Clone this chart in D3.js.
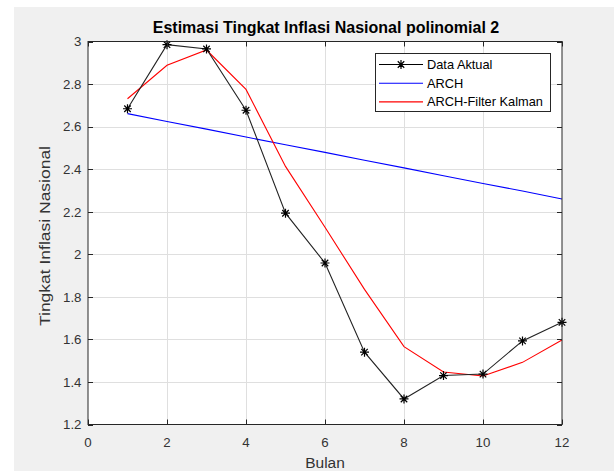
<!DOCTYPE html>
<html>
<head>
<meta charset="utf-8">
<script src="https://cdn.jsdelivr.net/npm/d3@7"></script>
<style>
  body { margin: 0; background: #fff; }
  svg { display: block; font-family: "Liberation Sans", Arial, Helvetica, sans-serif; }
</style>
</head>
<body>
<svg id="chart" width="614" height="471"></svg>
<script>
var bulan = [1, 2, 3, 4, 5, 6, 7, 8, 9, 10, 11, 12];
var dataAktual = [2.684, 2.985, 2.965, 2.677, 2.193, 1.959, 1.540, 1.320, 1.430, 1.437, 1.593, 1.680];
var arch = [2.661, 2.624, 2.588, 2.551, 2.515, 2.479, 2.442, 2.406, 2.369, 2.333, 2.297, 2.260];
var archKalman = [2.731, 2.888, 2.960, 2.775, 2.413, 2.127, 1.835, 1.566, 1.447, 1.428, 1.492, 1.597];
var xTicks = [0, 2, 4, 6, 8, 10, 12];
var yTicks = [1.2, 1.4, 1.6, 1.8, 2, 2.2, 2.4, 2.6, 2.8, 3];

var svg = d3.select("#chart");

// figure background
svg.append("rect")
  .attr("x", 14).attr("y", 7)
  .attr("width", 600).attr("height", 464)
  .attr("fill", "#f0f0f0");

var pLeft = 88, pRight = 562, pTop = 41.5, pBottom = 424.5;

var x = d3.scaleLinear().domain([0, 12]).range([pLeft, pRight]);
var y = d3.scaleLinear().domain([1.2, 3]).range([pBottom, pTop]);

svg.append("rect")
  .attr("x", pLeft).attr("y", pTop)
  .attr("width", pRight - pLeft).attr("height", pBottom - pTop)
  .attr("fill", "#fff");

// grid
var grid = svg.append("g").attr("stroke", "#dfdfdf").attr("stroke-width", 1);
grid.selectAll(".gx").data(xTicks.slice(1, -1)).enter().append("line")
  .attr("x1", function(d) { return Math.round(x(d)) + 0.5; })
  .attr("x2", function(d) { return Math.round(x(d)) + 0.5; })
  .attr("y1", pTop).attr("y2", pBottom);
grid.selectAll(".gy").data(yTicks.slice(1, -1)).enter().append("line")
  .attr("y1", function(d) { return Math.round(y(d)) + 0.5; })
  .attr("y2", function(d) { return Math.round(y(d)) + 0.5; })
  .attr("x1", pLeft).attr("x2", pRight);

// lines
var line = d3.line()
  .x(function(d, i) { return x(bulan[i]); })
  .y(function(d) { return y(d); });

svg.append("path").datum(arch)
  .attr("d", line).attr("fill", "none")
  .attr("stroke", "#0000ff").attr("stroke-width", 1.1);

svg.append("path").datum(archKalman)
  .attr("d", line).attr("fill", "none")
  .attr("stroke", "#ff0000").attr("stroke-width", 1.1);

svg.append("path").datum(dataAktual)
  .attr("d", line).attr("fill", "none")
  .attr("stroke", "#222").attr("stroke-width", 1.1);

function star(g, cx, cy, r) {
  var d = r * 0.72;
  var p = "M" + (cx - r) + "," + cy + "H" + (cx + r) +
          "M" + cx + "," + (cy - r) + "V" + (cy + r) +
          "M" + (cx - d) + "," + (cy - d) + "L" + (cx + d) + "," + (cy + d) +
          "M" + (cx - d) + "," + (cy + d) + "L" + (cx + d) + "," + (cy - d);
  g.append("path").attr("d", p).attr("stroke", "#000").attr("stroke-width", 1.2).attr("fill", "none");
}
var markers = svg.append("g");
dataAktual.forEach(function(v, i) { star(markers, x(bulan[i]), y(v), 4.5); });

// axes box with inward ticks
var ax = svg.append("g").attr("stroke", "#262626").attr("stroke-width", 1);
ax.append("rect")
  .attr("x", pLeft).attr("y", pTop)
  .attr("width", pRight - pLeft).attr("height", pBottom - pTop)
  .attr("fill", "none");
xTicks.forEach(function(t) {
  var px = Math.round(x(t)) + 0.5;
  ax.append("line").attr("x1", px).attr("x2", px).attr("y1", pBottom).attr("y2", pBottom - 5);
  ax.append("line").attr("x1", px).attr("x2", px).attr("y1", pTop).attr("y2", pTop + 5);
});
yTicks.forEach(function(t) {
  var py = Math.round(y(t)) + 0.5;
  ax.append("line").attr("y1", py).attr("y2", py).attr("x1", pLeft).attr("x2", pLeft + 5);
  ax.append("line").attr("y1", py).attr("y2", py).attr("x1", pRight).attr("x2", pRight - 5);
});

// tick labels
svg.selectAll(".xt").data(xTicks).enter().append("text")
  .attr("x", function(d) { return x(d); })
  .attr("y", 446.5)
  .attr("text-anchor", "middle")
  .attr("font-size", 13.3).attr("fill", "#333")
  .text(function(d) { return d; });

svg.selectAll(".yt").data(yTicks).enter().append("text")
  .attr("x", 81.5)
  .attr("y", function(d) { return y(d) + 4.8; })
  .attr("text-anchor", "end")
  .attr("font-size", 13.3).attr("fill", "#333")
  .text(function(d) { return d; });

// labels
svg.append("text")
  .attr("x", 326).attr("y", 33)
  .attr("text-anchor", "middle")
  .attr("font-size", 16).attr("font-weight", "bold").attr("fill", "#000")
  .text("Estimasi Tingkat Inflasi Nasional polinomial 2");

svg.append("text")
  .attr("x", 325).attr("y", 468)
  .attr("text-anchor", "middle")
  .attr("font-size", 15.5).attr("fill", "#333")
  .text("Bulan");

svg.append("text")
  .attr("transform", "translate(50,236) rotate(-90)")
  .attr("text-anchor", "middle")
  .attr("font-size", 15.5).attr("fill", "#333")
  .attr("textLength", 180).attr("lengthAdjust", "spacingAndGlyphs")
  .text("Tingkat Inflasi Nasional");

// legend
var legendItems = [
  { name: "Data Aktual", color: "#000", marker: true },
  { name: "ARCH", color: "#0000ff", marker: false },
  { name: "ARCH-Filter Kalman", color: "#ff0000", marker: false }
];
var lg = svg.append("g");
lg.append("rect")
  .attr("x", 375.5).attr("y", 53.5)
  .attr("width", 175).attr("height", 58)
  .attr("fill", "#fff").attr("stroke", "#262626").attr("stroke-width", 1);
legendItems.forEach(function(it, i) {
  var ly = 64.5 + i * 18.7;
  lg.append("line")
    .attr("x1", 379).attr("x2", 423)
    .attr("y1", ly).attr("y2", ly)
    .attr("stroke", it.color).attr("stroke-width", 1.1);
  if (it.marker) star(lg, 401, ly, 4.5);
  lg.append("text")
    .attr("x", 427).attr("y", ly + 4.5)
    .attr("font-size", 12.8).attr("fill", "#000")
    .text(it.name);
});
</script>
</body>
</html>
